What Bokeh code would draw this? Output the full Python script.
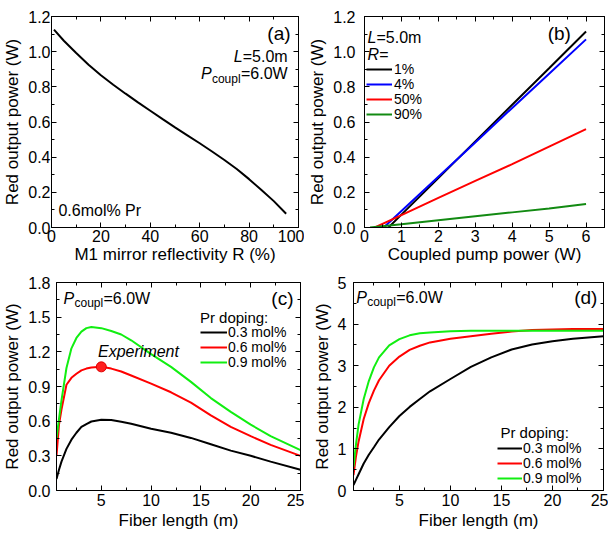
from bokeh.plotting import figure
from bokeh.models import FixedTicker, LinearAxis, Label, Legend, LegendItem, NumeralTickFormatter, Range1d
from bokeh.layouts import column, row
from bokeh.embed import file_html
from bokeh.resources import INLINE

FONT = "Liberation Sans"

# ---------------- data ----------------
# (a) output power vs M1 reflectivity
a_R = [1, 5, 10, 15, 20, 25, 30, 35, 40, 45, 50, 55, 60, 65, 70, 75, 80, 85, 90, 95]
a_P = [1.125, 1.062, 0.992, 0.926, 0.866, 0.812, 0.761, 0.712, 0.664, 0.616, 0.569,
       0.524, 0.479, 0.432, 0.384, 0.333, 0.275, 0.213, 0.150, 0.078]

# (b) output power vs coupled pump power for several R
b_labels = ["1%", "4%", "50%", "90%"]
b_pump_r1 = [0.65, 1, 2, 3, 4, 5, 6]
b_out_r1 = [0, 0.073, 0.281, 0.49, 0.698, 0.906, 1.115]
b_pump_r4 = [0.52, 1, 2, 3, 4, 5, 6]
b_out_r4 = [0, 0.094, 0.289, 0.484, 0.68, 0.875, 1.07]
b_pump_r50 = [0.28, 1, 2, 3, 4, 5, 6]
b_out_r50 = [0, 0.07, 0.168, 0.265, 0.36, 0.46, 0.56]
b_pump_r90 = [0.15, 1, 2, 3, 4, 5, 6]
b_out_r90 = [0, 0.018, 0.041, 0.064, 0.086, 0.108, 0.133]

# (c) output power vs fiber length
doping_labels = ["0.3 mol%", "0.6 mol%", "0.9 mol%"]
c_len = [0.5, 0.75, 1, 1.5, 2, 2.5, 3, 3.5, 4, 5, 6, 7, 8, 10, 12, 14, 16, 18, 20, 22, 25]
c_03 = [0.10, 0.18, 0.25, 0.36, 0.44, 0.50, 0.55, 0.575, 0.597, 0.612, 0.61, 0.595, 0.578,
        0.535, 0.50, 0.455, 0.40, 0.345, 0.30, 0.25, 0.18]
c_06 = [0.30, 0.57, 0.70, 0.915, 0.975, 1.01, 1.04, 1.055, 1.065, 1.07, 1.055, 1.03, 0.995,
        0.925, 0.85, 0.76, 0.65, 0.55, 0.47, 0.395, 0.30]
c_09 = [0.45, 0.62, 0.78, 1.06, 1.23, 1.32, 1.375, 1.405, 1.415, 1.405, 1.38, 1.35, 1.30,
        1.18, 1.07, 0.94, 0.80, 0.68, 0.57, 0.47, 0.35]
exp_len = [5]
exp_power = [1.07]

# (d) output power vs fiber length
d_len = [0.5, 0.75, 1, 1.5, 2, 2.5, 3, 4, 5, 6, 7, 8, 10, 12, 14, 16, 18, 20, 22, 25]
d_03 = [0.13, 0.26, 0.39, 0.65, 0.86, 1.04, 1.225, 1.525, 1.79, 2.01, 2.20, 2.385, 2.68,
        2.97, 3.20, 3.39, 3.51, 3.59, 3.65, 3.71]
d_06 = [0.37, 0.83, 1.18, 1.72, 2.10, 2.40, 2.65, 3.00, 3.22, 3.38, 3.48, 3.56, 3.65,
        3.71, 3.77, 3.82, 3.86, 3.87, 3.88, 3.88]
d_09 = [0.57, 1.12, 1.59, 2.20, 2.63, 2.96, 3.20, 3.49, 3.64, 3.73, 3.78, 3.80, 3.83,
        3.84, 3.84, 3.84, 3.84, 3.84, 3.84, 3.84]

# ticks
a_xticks = [0, 20, 40, 60, 80, 100]
a_xminor = [10, 30, 50, 70, 90]
ab_yticks = [0.0, 0.2, 0.4, 0.6, 0.8, 1.0, 1.2]
ab_yminor = [0.1, 0.3, 0.5, 0.7, 0.9, 1.1]
b_xticks = [0, 1, 2, 3, 4, 5, 6]
b_xminor = [0.5, 1.5, 2.5, 3.5, 4.5, 5.5, 6.5]
cd_xticks = [5, 10, 15, 20, 25]
cd_xminor = [2.5, 7.5, 12.5, 17.5, 22.5]
c_yticks = [0.0, 0.3, 0.6, 0.9, 1.2, 1.5, 1.8]
c_yminor = [0.15, 0.45, 0.75, 1.05, 1.35, 1.65]
d_yticks = [0, 1, 2, 3, 4, 5]
d_yminor = [0.5, 1.5, 2.5, 3.5, 4.5]

GREEN_B = "#128a12"
LIME = "#11ee11"

# ---------------- helpers ----------------
W1, W2 = 304, 304
H1, H2 = 266, 266


def make_fig(w, h, xr, yr, bl, br, bt, bb):
    p = figure(width=w, height=h, x_range=Range1d(*xr), y_range=Range1d(*yr),
               output_backend="svg", toolbar_location=None,
               min_border_left=bl, min_border_right=br, min_border_top=bt, min_border_bottom=bb)
    p.grid.visible = False
    p.outline_line_color = "black"
    p.background_fill_color = "white"
    p.border_fill_color = "white"
    return p


def style_axis(ax, ticker, fmt=None, label=None, std=2, lstd=1):
    ax.ticker = ticker
    if fmt is not None:
        ax.formatter = fmt
    ax.axis_label = label
    ax.axis_label_text_font = FONT
    ax.axis_label_text_font_size = "17px"
    ax.axis_label_text_font_style = "normal"
    ax.axis_label_text_color = "black"
    ax.axis_label_standoff = lstd
    ax.major_label_text_font = FONT
    ax.major_label_text_font_size = "16px"
    ax.major_label_text_color = "black"
    ax.major_label_standoff = std
    ax.major_tick_in = 5
    ax.major_tick_out = 0
    ax.minor_tick_in = 3
    ax.minor_tick_out = 0
    ax.axis_line_color = "black"
    ax.major_tick_line_color = "black"
    ax.minor_tick_line_color = "black"


def setup_axes(p, xt, xm, yt, ym, xfmt, yfmt, xlabel, ylabel, xstd, xlstd, ystd, ylstd):
    xtk = FixedTicker(ticks=xt, minor_ticks=xm)
    ytk = FixedTicker(ticks=yt, minor_ticks=ym)
    style_axis(p.xaxis[0], xtk, xfmt, xlabel, xstd, xlstd)
    style_axis(p.yaxis[0], ytk, yfmt, ylabel, ystd, ylstd)
    for loc, tk, ticks in (("above", xtk, xt), ("right", ytk, yt)):
        ax = LinearAxis()
        style_axis(ax, tk)
        ax.major_label_overrides = {t: "" for t in ticks}
        ax.major_label_text_font_size = "0px"
        ax.major_label_standoff = 0
        p.add_layout(ax, loc)


def txt(p, x, y, text, size="16px", style="normal", align="left", xo=0, yo=0):
    p.add_layout(Label(x=x, y=y, text=text, text_font=FONT, text_font_size=size,
                       text_font_style=style, text_align=align, text_baseline="middle",
                       x_offset=xo, y_offset=yo, text_color="black"))


def legend_rows(p, labels, renderers, vx, vys, gw, standoff):
    # one legend per row so that row spacing can follow the original tightly
    for lab, r, vy in zip(labels, renderers, vys):
        lg = Legend(items=[LegendItem(label=lab, renderers=[r])], location=(vx, vy),
                    label_text_font=FONT, label_text_font_size="14px", label_text_color="black",
                    glyph_width=gw, glyph_height=16, label_height=16, label_standoff=standoff,
                    spacing=0, padding=0, margin=0,
                    border_line_color=None, background_fill_alpha=0)
        p.add_layout(lg)


YLAB = "Red output power (W)"

# ---------------- (a) ----------------
pa = make_fig(W1, H1, (0, 100), (0, 1.2), 50, 6, 16, 37)
setup_axes(pa, a_xticks, a_xminor, ab_yticks, ab_yminor, NumeralTickFormatter(format="0"),
           NumeralTickFormatter(format="0.0"), "M1 mirror reflectivity R (%)", YLAB, 2, 0, 1, 3)
pa.line(a_R, a_P, line_color="black", line_width=2)
txt(pa, 96.8, 1.104, "(a)", size="19px", align="right")
txt(pa, 95.6, 0.974, "=5.0m", align="right")
txt(pa, 95.6, 0.974, "L", style="italic", align="right", xo=-45)
txt(pa, 95.6, 0.874, "=6.0W", align="right")
txt(pa, 95.6, 0.874, "coupl", size="12px", align="right", xo=-47, yo=-5)
txt(pa, 95.6, 0.874, "P", style="italic", align="right", xo=-76)
txt(pa, 2.8, 0.097, "0.6mol% Pr")

# ---------------- (b) ----------------
pb = make_fig(W2, H1, (0, 6.5), (0, 1.2), 60, 4, 16, 37)
setup_axes(pb, b_xticks, b_xminor, ab_yticks, ab_yminor, NumeralTickFormatter(format="0"),
           NumeralTickFormatter(format="0.0"), "Coupled pump power (W)", YLAB, 2, 0, 9, 3)
rb = [
    pb.line(b_pump_r1, b_out_r1, line_color="black", line_width=2),
    pb.line(b_pump_r4, b_out_r4, line_color="#0000ff", line_width=2),
    pb.line(b_pump_r50, b_out_r50, line_color="#ff0000", line_width=2),
    pb.line(b_pump_r90, b_out_r90, line_color=GREEN_B, line_width=2),
]
legend_rows(pb, b_labels, rb, 2, [150, 135, 120, 105], 26, 2)
txt(pb, 5.59, 1.104, "(b)", size="19px", align="right")
txt(pb, 0.08, 1.082, "L", style="italic")
txt(pb, 0.08, 1.082, "=5.0m", xo=9)
txt(pb, 0.08, 0.985, "R=", style="italic")

# ---------------- (c) ----------------
pc = make_fig(W1, H2, (0.5, 25), (0, 1.8), 56, 4, 16, 38)
setup_axes(pc, cd_xticks, cd_xminor, c_yticks, c_yminor, NumeralTickFormatter(format="0"),
           NumeralTickFormatter(format="0.0"), "Fiber length (m)", YLAB, 3, 2, 6, 3)
rc = [
    pc.line(c_len, c_03, line_color="black", line_width=2),
    pc.line(c_len, c_06, line_color="#ff0000", line_width=2),
    pc.line(c_len, c_09, line_color=LIME, line_width=2),
]
pc.scatter(exp_len, exp_power, size=10, fill_color="#ff2020", line_color="#e00000")
legend_rows(pc, doping_labels, rc, 144, [150, 135, 120], 27, 1)
txt(pc, 14.9, 1.50, "Pr doping:", size="15px")
txt(pc, 24.3, 1.664, "(c)", size="19px", align="right")
txt(pc, 1.2, 1.664, "P", style="italic")
txt(pc, 1.2, 1.664, "coupl", size="12px", xo=11, yo=-5)
txt(pc, 1.2, 1.664, "=6.0W", xo=40)
txt(pc, 4.67, 1.20, "Experiment", style="italic")

# ---------------- (d) ----------------
pd_ = make_fig(W2, H2, (0.5, 25), (0, 5), 49, 5, 16, 38)
setup_axes(pd_, cd_xticks, cd_xminor, d_yticks, d_yminor, NumeralTickFormatter(format="0"),
           NumeralTickFormatter(format="0"), "Fiber length (m)", YLAB, 3, 2, 7, 3)
rd = [
    pd_.line(d_len, d_03, line_color="black", line_width=2),
    pd_.line(d_len, d_06, line_color="#ff0000", line_width=2),
    pd_.line(d_len, d_09, line_color=LIME, line_width=2),
]
legend_rows(pd_, doping_labels, rd, 144, [34, 19, 4], 25, 1)
txt(pd_, 14.9, 1.40, "Pr doping:", size="15px")
txt(pd_, 24.4, 4.65, "(d)", size="19px", align="right")
txt(pd_, 0.76, 4.65, "P", style="italic")
txt(pd_, 0.76, 4.65, "coupl", size="12px", xo=11, yo=-5)
txt(pd_, 0.76, 4.65, "=6.0W", xo=40)

layout = column(row(pa, pb), row(pc, pd_))
open("out.html", "w").write(file_html(layout, INLINE))
